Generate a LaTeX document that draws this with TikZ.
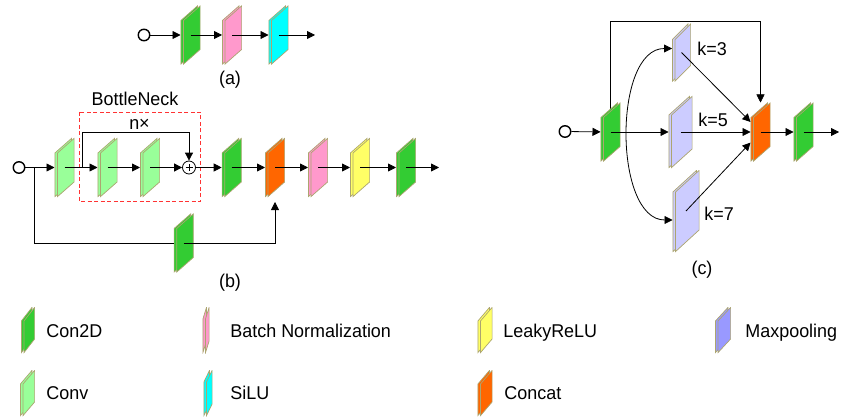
\documentclass[tikz,border=0pt]{standalone}
\usepackage{fontspec}
\setmainfont{Liberation Sans}[FakeStretch=0.97]
\usepackage{tikz}
\usetikzlibrary{arrows.meta,calc,backgrounds}

\definecolor{con2d}{HTML}{33CC33}
\definecolor{conv}{HTML}{99FF99}
\definecolor{bnorm}{HTML}{FF99CC}
\definecolor{silu}{HTML}{00FFFF}
\definecolor{leaky}{HTML}{FFFF66}
\definecolor{concat}{HTML}{FF6600}
\definecolor{maxpool}{HTML}{9999FF}
\definecolor{pool}{HTML}{CCCCFF}
\definecolor{rim}{RGB}{172,165,112}
\definecolor{neck}{HTML}{FF3333}

\newcommand\slabtint{con2d}
\newcommand\slabtilt{15pt}

\tikzset{
  slabfill/.code={\renewcommand\slabtint{#1}},
  slabrise/.code={\renewcommand\slabtilt{#1}},
  % a thin layer block: back face + front face, 3pt apart
  slab/.style={inner sep=0pt, outer sep=0pt, minimum width=20pt, minimum height=59pt,
    path picture={
      \draw[rim, line width=.7pt, fill=\slabtint]
        let \p1=(path picture bounding box.south west),
            \p2=(path picture bounding box.north east) in
        (\x1+.4pt,\y1+.4pt) -- (\x1+.4pt,\y2-\slabtilt) -- (\x2-3pt,\y2-.4pt)
        -- (\x2-3pt,\y1+\slabtilt) -- cycle;
      \draw[rim, line width=.7pt, fill=\slabtint]
        let \p1=(path picture bounding box.south west),
            \p2=(path picture bounding box.north east) in
        (\x1+3pt,\y1+.4pt) -- (\x1+3pt,\y2-\slabtilt) -- (\x2-.4pt,\y2-.4pt)
        -- (\x2-.4pt,\y1+\slabtilt) -- cycle;
    }},
  swatch/.style={slab, minimum width=15pt, minimum height=46pt, slabrise=14pt},
  dot/.style={circle, draw, line width=1.4pt, minimum size=11.5pt, inner sep=0pt},
  plus/.style={circle, draw, minimum size=13pt, inner sep=0pt,
    path picture={
      \draw ([yshift=-3pt]path picture bounding box.north) -- ([yshift=3pt]path picture bounding box.south)
            ([xshift=3pt]path picture bounding box.west) -- ([xshift=-3pt]path picture bounding box.east);
    }},
  key/.style={anchor=base west, inner sep=0pt},
  lbl/.style={anchor=base, inner sep=0pt},
}

\begin{document}
\begin{tikzpicture}[x=1pt, y=-1pt, line width=.8pt,
    font=\fontsize{18.5}{22}\selectfont, >={Triangle[length=8pt,width=8pt]}]
\useasboundingbox (0,0) rectangle (843,417);

% (a)
\node[dot] (ina) at (144,35) {};
\node[slab, slabfill=con2d] (a1) at (190.5,35) {};
\node[slab, slabfill=bnorm] (a2) at (232,35) {};
\node[slab, slabfill=silu]  (a3) at (278.5,35) {};
\coordinate (outa) at (315,35);
\draw[->] (ina) -- (a1);
\draw[->] (a1.center) -- (a2);
\draw[->] (a2.center) -- (a3);
\draw[->] (a3.center) -- (outa);
\node (capa) at (230,80) {(a)};

% (b)
\node[dot] (inb) at (19,167.5) {};
\node[slab, slabfill=conv]   (b1) at (64.5,167.5) {};
\node[slab, slabfill=conv]   (b2) at (107.5,167.5) {};
\node[slab, slabfill=conv]   (b3) at (150,167.5) {};
\node[plus]                  (sum) at (189,167.5) {};
\node[slab, slabfill=con2d]  (b4) at (231.7,167.5) {};
\node[slab, slabfill=concat] (b5) at (275,167.5) {};
\node[slab, slabfill=bnorm]  (b6) at (318,167.5) {};
\node[slab, slabfill=leaky]  (b7) at (360,167.5) {};
\node[slab, slabfill=con2d]  (b8) at (406,167.5) {};
\node[slab, slabfill=con2d]  (skip) at (183.7,243) {};  % shortcut conv
\coordinate (outb) at (439,167.5);
\coordinate (split) at (34,167.5);
\coordinate (loop) at (82.5,167.5);

\draw[neck, dash pattern=on 4pt off 2.5pt] (79,112) rectangle (200.5,201);   % bottleneck
\node[lbl] (neckname) at (135,105.7) {BottleNeck};
\node[lbl] (times) at (139.5,129) {n×};

\draw[->] (inb) -- (b1);
\draw[->] (b1.center) -- (b2);
\draw[->] (b2.center) -- (b3);
\draw[->] (b3.center) -- (sum);
\draw[->] (loop) -- ++(0,-35.3) -| (sum);
\draw[->] (sum) -- (b4);
\draw[->] (b4.center) -- (b5);
\draw[->] (b5.center) -- (b6);
\draw[->] (b6.center) -- (b7);
\draw[->] (b7.center) -- (b8);
\draw[->] (b8.center) -- (outb);
\draw (split) |- (skip);
\draw[->, shorten >=5pt] (skip.center) -| (b5);
\node (capb) at (230,283) {(b)};

% (c)
\node[dot] (inc) at (565,131.5) {};
\node[slab, slabfill=con2d] (c1) at (610.5,132) {};
\node[slab, slabfill=pool, minimum width=19pt, minimum height=58pt, slabrise=16pt] (p3) at (681.5,52.5) {};
\node[slab, slabfill=pool, minimum width=24pt, minimum height=72pt, slabrise=19pt] (p5) at (680.5,132) {};
\node[slab, slabfill=pool, minimum width=27pt, minimum height=82pt, slabrise=22pt] (p7) at (686,211) {};
\node[slab, slabfill=concat] (c2) at (760.5,132) {};
\node[slab, slabfill=con2d]  (c3) at (803.5,132) {};
\coordinate (outc) at (839,132);

\begin{scope}[on background layer]
  \draw[->] (c1.center) -- ++(0,-111) -| (c2);
\end{scope}
\draw[->] (inc) -- (c1);
\draw[->] (c1.center) -- (p5);
\draw[<->] ([yshift=4pt]p3.west) to[out=180, in=180, looseness=.88] ([yshift=-9pt]p7.west);
\draw[->] (p3.center) -- (c2);
\draw[->] (p5.center) -- (c2);
\draw[->] (p7.center) -- (c2);
\draw[->] (c2.center) -- (c3);
\draw[->] (c3.center) -- (outc);
\node[key] (k3) at (697,56) {k=3};
\node[key] (k5) at (698,126.7) {k=5};
\node[key] (k7) at (704,220) {k=7};
\node (capc) at (702,270) {(c)};

% legend
\node[swatch, slabfill=con2d, minimum width=14pt] (l1) at (28,330) {};
\node[key] (t1) at (46,337.3) {Con2D};
\node[swatch, slabfill=bnorm, minimum width=7pt, slabrise=12pt] (l2) at (206,330) {};
\node[key] (t2) at (230,337.3) {Batch Normalization};
\node[swatch, slabfill=leaky] (l3) at (485,330) {};
\node[key] (t3) at (503,337.3) {LeakyReLU};
\node[swatch, slabfill=maxpool, minimum width=16pt] (l4) at (723,330) {};
\node[key] (t4) at (745,337.3) {Maxpooling};
\node[swatch, slabfill=conv] (l5) at (27.5,393) {};
\node[key] (t5) at (46,399) {Conv};
\node[swatch, slabfill=silu, minimum width=9pt, slabrise=12pt] (l6) at (208,393) {};
\node[key] (t6) at (230,399) {SiLU};
\node[swatch, slabfill=concat] (l7) at (485,393) {};
\node[key] (t7) at (504,399) {Concat};
\end{tikzpicture}
\end{document}
